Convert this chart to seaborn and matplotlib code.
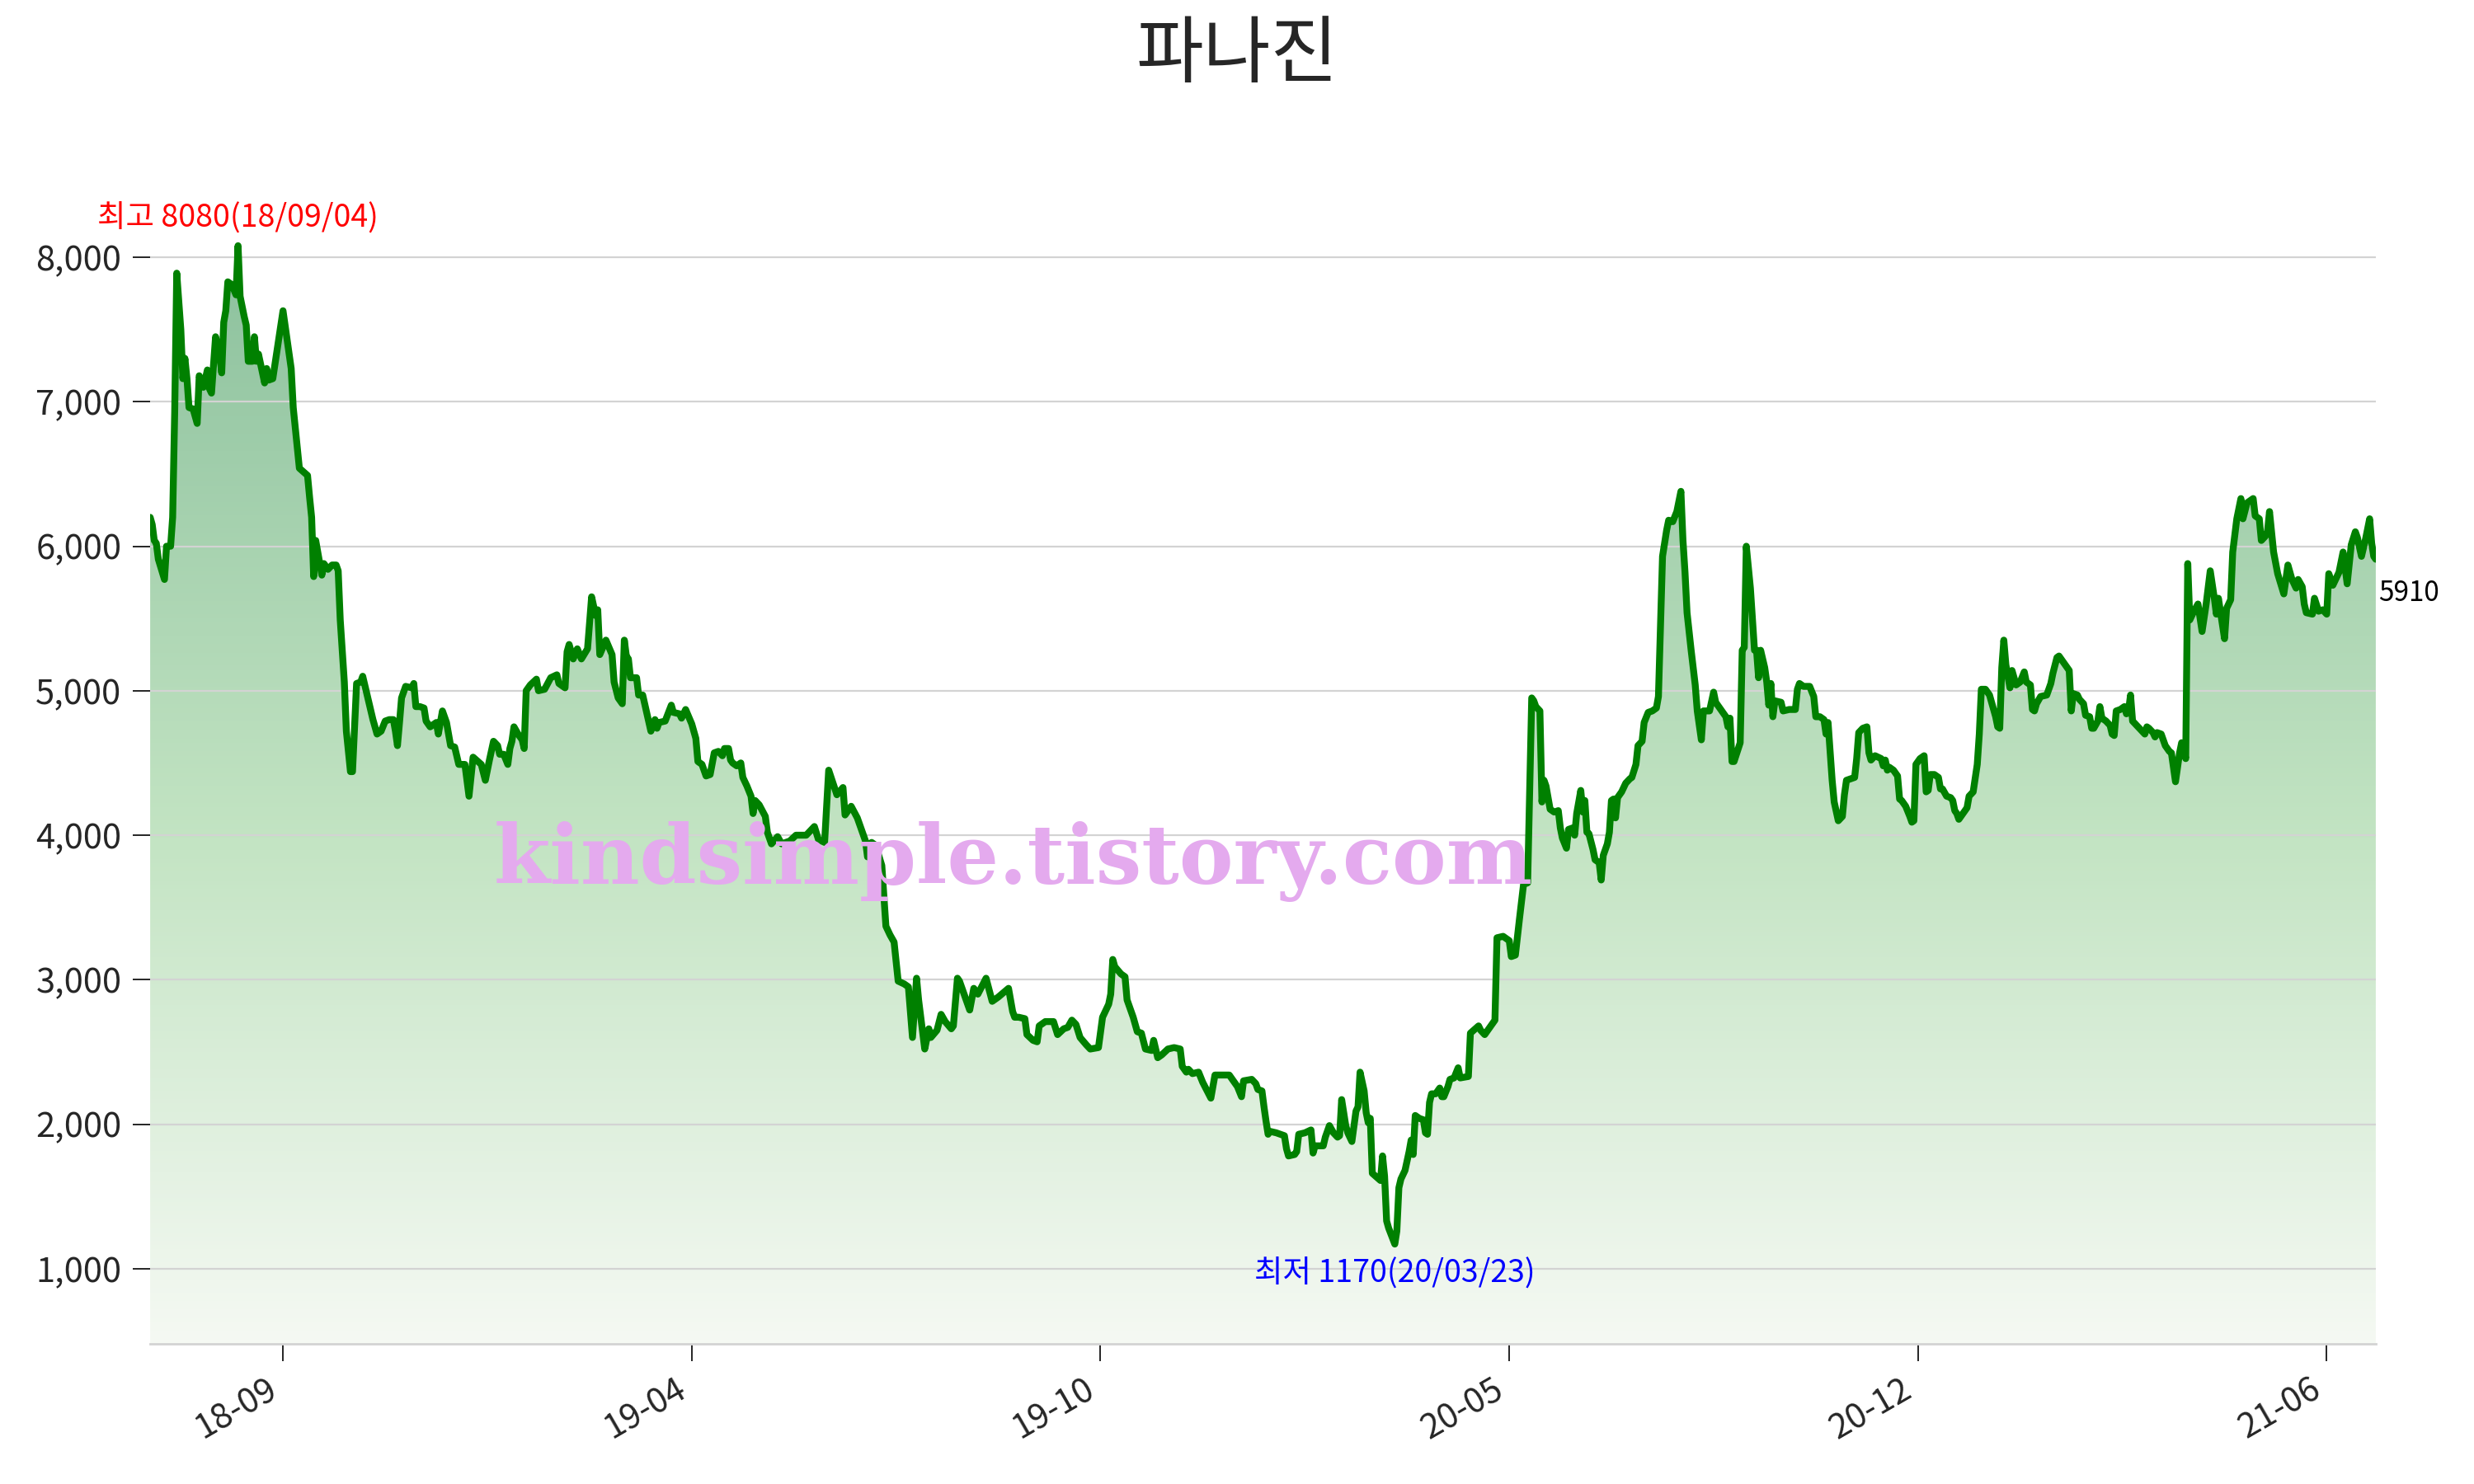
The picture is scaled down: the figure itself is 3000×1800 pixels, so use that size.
import numpy as np
import pandas as pd
import seaborn as sns
import matplotlib.pyplot as plt
import matplotlib.dates as mdates
import matplotlib.ticker as ticker
from matplotlib.colors import LinearSegmentedColormap

stock_name = '파나진'
start_date = '2018-07-23'
watermark = 'kindsimple.tistory.com'

# trading days counted from start_date
day_offset = [
    0, 1, 2, 3, 4, 7, 8, 10, 11, 12,
    13, 15, 16, 17, 18, 19, 21, 23, 24, 26,
    28, 29, 30, 32, 34, 35, 36, 37, 38, 40,
    42, 43, 44, 46, 47, 48, 50, 51, 52, 53,
    56, 57, 58, 60, 65, 69, 70, 73, 77, 78,
    79, 80, 81, 83, 84, 85, 87, 89, 91, 92,
    93, 95, 96, 98, 99, 101, 103, 104, 106, 109,
    111, 113, 115, 117, 119, 120, 121, 122, 123, 125,
    128, 129, 130, 132, 134, 135, 137, 140, 141, 143,
    145, 147, 149, 151, 154, 156, 158, 162, 164, 166,
    168, 170, 171, 173, 175, 176, 177, 178, 180, 182,
    183, 184, 186, 189, 190, 193, 196, 199, 200, 203,
    204, 205, 207, 209, 211, 214, 216, 218, 219, 220,
    223, 226, 227, 229, 231, 232, 233, 234, 235, 238,
    239, 241, 245, 247, 248, 249, 252, 255, 256, 259,
    260, 262, 265, 267, 268, 270, 272, 274, 276, 278,
    280, 281, 283, 284, 285, 287, 289, 290, 292, 294,
    295, 296, 298, 301, 302, 304, 307, 309, 313, 316,
    321, 325, 327, 330, 332, 336, 339, 340, 343, 346,
    350, 351, 353, 355, 358, 359, 360, 362, 364, 366,
    369, 371, 373, 375, 376, 379, 381, 382, 385, 387,
    389, 392, 393, 395, 396, 401, 403, 405, 409, 412,
    415, 420, 422, 423, 425, 428, 429, 432, 434, 435,
    438, 442, 444, 447, 449, 451, 453, 455, 458, 460,
    464, 466, 469, 470, 471, 472, 475, 477, 478, 479,
    481, 483, 485, 487, 490, 491, 493, 495, 498, 501,
    504, 505, 507, 508, 510, 513, 515, 519, 521, 528,
    530, 532, 534, 535, 539, 541, 542, 544, 545, 546,
    547, 548, 551, 555, 556, 557, 560, 561, 562, 565,
    568, 569, 570, 574, 575, 577, 579, 581, 582, 583,
    585, 586, 588, 590, 591, 592, 594, 595, 596, 597,
    598, 602, 603, 604, 605, 606, 609, 610, 611, 612,
    614, 616, 617, 618, 619, 621, 623, 624, 625, 626,
    627, 629, 631, 632, 633, 635, 636, 638, 640, 641,
    645, 646, 650, 651, 653, 654, 656, 658, 659, 662,
    665, 666, 668, 670, 672, 674, 676, 677, 678, 680,
    681, 682, 683, 685, 687, 689, 690, 691, 693, 694,
    696, 697, 698, 700, 701, 702, 703, 704, 706, 707,
    709, 710, 711, 713, 714, 715, 716, 717, 718, 720,
    722, 724, 725, 727, 728, 730, 731, 733, 735, 737,
    738, 739, 740, 742, 743, 745, 747, 749, 750, 751,
    752, 754, 756, 757, 759, 760, 763, 765, 766, 769,
    771, 772, 773, 774, 775, 778, 779, 780, 781, 783,
    785, 786, 787, 788, 790, 791, 792, 793, 794, 795,
    798, 799, 802, 805, 806, 807, 809, 812, 814, 815,
    817, 819, 820, 821, 823, 824, 826, 828, 829, 830,
    834, 835, 836, 838, 840, 841, 842, 844, 847, 848,
    849, 850, 851, 853, 855, 856, 857, 859, 861, 862,
    863, 864, 866, 868, 869, 870, 871, 873, 875, 876,
    877, 879, 881, 882, 883, 884, 885, 887, 889, 890,
    892, 894, 895, 896, 898, 900, 903, 904, 905, 906,
    907, 908, 910, 911, 913, 915, 917, 918, 920, 921,
    922, 923, 925, 928, 930, 931, 933, 934, 937, 939,
    940, 941, 943, 944, 946, 947, 949, 950, 951, 953,
    954, 955, 957, 959, 960, 961, 962, 964, 966, 967,
    968, 969, 970, 972, 974, 976, 977, 978, 980, 981,
    982, 984, 986, 988, 989, 990, 991, 993, 994, 995,
    996, 997, 998, 1000, 1002, 1004, 1006, 1008, 1010, 1011,
    1012, 1015, 1016, 1018, 1019, 1021, 1023, 1024, 1026, 1029,
    1030, 1032, 1033, 1035, 1036, 1037, 1039, 1041, 1044, 1046,
    1048, 1050, 1051, 1053, 1054, 1055, 1058, 1059, 1061, 1063,
    1065, 1066, 1068, 1071, 1073, 1075, 1077, 1079, 1080, 1082,
    1084, 1086, 1087, 1088, 1089,
]

# closing price (KRW)
price = [
    6200, 6150, 6040, 6020, 5910, 5770, 6000, 6000, 6200, 6930,
    7890, 7500, 7160, 7300, 7160, 6960, 6950, 6850, 7180, 7100,
    7220, 7090, 7060, 7450, 7330, 7200, 7550, 7630, 7830, 7810,
    7740, 8080, 7730, 7590, 7530, 7280, 7280, 7450, 7280, 7330,
    7130, 7230, 7150, 7160, 7630, 7230, 6960, 6540, 6490, 6340,
    6200, 5790, 6040, 5880, 5800, 5880, 5840, 5870, 5870, 5830,
    5490, 5060, 4720, 4440, 4440, 5050, 5060, 5100, 4980, 4800,
    4700, 4720, 4790, 4800, 4800, 4720, 4620, 4780, 4950, 5030,
    5020, 5050, 4890, 4890, 4880, 4790, 4750, 4780, 4700, 4860,
    4780, 4620, 4610, 4490, 4490, 4270, 4540, 4490, 4380, 4520,
    4650, 4620, 4560, 4560, 4490, 4600, 4650, 4750, 4700, 4660,
    4600, 5000, 5040, 5080, 5000, 5010, 5090, 5110, 5050, 5020,
    5270, 5320, 5220, 5290, 5220, 5290, 5650, 5520, 5560, 5250,
    5350, 5250, 5060, 4950, 4910, 5350, 5240, 5220, 5090, 5090,
    4970, 4970, 4720, 4800, 4740, 4780, 4790, 4900, 4850, 4840,
    4810, 4870, 4770, 4670, 4510, 4490, 4410, 4420, 4570, 4580,
    4550, 4600, 4600, 4520, 4500, 4480, 4500, 4400, 4340, 4270,
    4150, 4240, 4210, 4130, 4020, 3940, 3990, 3940, 3960, 4000,
    4000, 4060, 3970, 3950, 4450, 4280, 4330, 4140, 4200, 4120,
    3960, 3850, 3950, 3930, 3790, 3580, 3370, 3310, 3260, 2990,
    2970, 2950, 2600, 3010, 2860, 2520, 2660, 2600, 2650, 2760,
    2710, 2660, 2680, 3010, 2990, 2790, 2940, 2900, 3010, 2850,
    2880, 2940, 2780, 2740, 2740, 2730, 2620, 2580, 2570, 2680,
    2710, 2710, 2620, 2660, 2670, 2720, 2690, 2600, 2550, 2520,
    2530, 2740, 2830, 2900, 3140, 3090, 3040, 3020, 2860, 2820,
    2740, 2640, 2630, 2520, 2510, 2580, 2460, 2480, 2520, 2530,
    2520, 2400, 2360, 2380, 2350, 2360, 2290, 2180, 2340, 2340,
    2300, 2260, 2190, 2300, 2310, 2280, 2240, 2230, 2120, 2020,
    1930, 1950, 1940, 1920, 1830, 1780, 1790, 1810, 1930, 1940,
    1960, 1800, 1850, 1850, 1910, 1990, 1940, 1910, 1920, 2170,
    1990, 1940, 1880, 2090, 2120, 2360, 2230, 2080, 2010, 2040,
    1660, 1610, 1780, 1640, 1330, 1280, 1170, 1260, 1560, 1620,
    1680, 1810, 1890, 1790, 2060, 2040, 2030, 1940, 1930, 2150,
    2210, 2210, 2250, 2190, 2190, 2260, 2310, 2320, 2390, 2320,
    2330, 2630, 2680, 2650, 2620, 2640, 2680, 2720, 3290, 3300,
    3270, 3160, 3170, 3420, 3660, 3670, 4950, 4930, 4890, 4860,
    4230, 4380, 4340, 4180, 4160, 4170, 4050, 3980, 3910, 4040,
    4050, 4000, 4150, 4310, 4160, 4240, 4020, 4010, 3900, 3830,
    3810, 3690, 3860, 3940, 4020, 4240, 4250, 4120, 4260, 4300,
    4360, 4390, 4400, 4490, 4620, 4650, 4780, 4850, 4860, 4880,
    4960, 5450, 5930, 6110, 6180, 6170, 6240, 6380, 6040, 5820,
    5540, 5280, 5040, 4860, 4660, 4860, 4860, 4990, 4920, 4860,
    4820, 4750, 4810, 4510, 4510, 4640, 5280, 5300, 6000, 5710,
    5280, 5280, 5090, 5280, 5160, 5060, 4900, 5050, 4820, 4930,
    4920, 4860, 4870, 4870, 5010, 5050, 5030, 5030, 4960, 4820,
    4820, 4800, 4700, 4780, 4380, 4230, 4100, 4130, 4280, 4380,
    4400, 4530, 4710, 4740, 4750, 4570, 4520, 4550, 4530, 4480,
    4520, 4450, 4470, 4450, 4410, 4250, 4240, 4200, 4130, 4090,
    4100, 4490, 4530, 4550, 4300, 4310, 4420, 4420, 4400, 4320,
    4320, 4270, 4260, 4240, 4170, 4150, 4110, 4150, 4190, 4270,
    4300, 4490, 4700, 5010, 5010, 4970, 4820, 4750, 4740, 5160,
    5350, 5180, 5020, 5140, 5040, 5060, 5130, 5060, 5040, 4870,
    4860, 4910, 4960, 4970, 5050, 5120, 5230, 5240, 5180, 5140,
    4860, 4980, 4970, 4940, 4910, 4830, 4820, 4740, 4740, 4790,
    4890, 4810, 4790, 4760, 4700, 4690, 4860, 4870, 4890, 4840,
    4860, 4970, 4790, 4760, 4730, 4700, 4750, 4740, 4710, 4680,
    4710, 4700, 4620, 4580, 4570, 4470, 4370, 4570, 4640, 4590,
    4530, 5880, 5490, 5550, 5600, 5410, 5600, 5830, 5640, 5530,
    5640, 5360, 5570, 5630, 5960, 6190, 6330, 6190, 6300, 6330,
    6210, 6190, 6040, 6070, 6100, 6240, 5960, 5810, 5670, 5870,
    5770, 5710, 5770, 5720, 5600, 5540, 5530, 5640, 5550, 5560,
    5530, 5810, 5730, 5820, 5960, 5740, 6010, 6100, 6060, 5930,
    6050, 6190, 6020, 5930, 5910,
]

df = pd.DataFrame({
    'date': pd.Timestamp(start_date) + pd.to_timedelta(day_offset, unit='D'),
    'price': price,
})

sns.set_style('white')
plt.rcParams['font.family'] = ['Noto Sans CJK KR', 'DejaVu Sans']
plt.rcParams['axes.unicode_minus'] = False

fig, ax = plt.subplots(figsize=(15, 9), dpi=200)
fig.subplots_adjust(left=0.0607, right=0.9603, bottom=0.0944, top=0.9017)

pmax, pmin = df['price'].max(), df['price'].min()
prange = pmax - pmin
ymin, ymax = pmin - 0.1 * prange, pmax + 0.1 * prange

sns.lineplot(data=df, x='date', y='price', color='green', linewidth=3.0, ax=ax, zorder=3)

# gradient fill under the line
poly = ax.fill_between(df['date'], df['price'], ymin, color='none', linewidth=0)
x0 = mdates.date2num(df['date'].iloc[0])
x1 = mdates.date2num(df['date'].iloc[-1])
cmap = LinearSegmentedColormap.from_list(
    'fill', [(0, '#f5f9f3'), (0.46, '#c3e4c3'), (1, '#8cc19d')])
grad = np.linspace(0, 1, 256).reshape(-1, 1)
im = ax.imshow(grad, aspect='auto', cmap=cmap, origin='lower',
               extent=[x0, x1, ymin, pmax], zorder=0.2)
im.set_clip_path(poly.get_paths()[0], transform=ax.transData)

ax.set_xlim(x0, x1)
ax.set_ylim(ymin, ymax)

# axes style
for side in ['top', 'right', 'left']:
    ax.spines[side].set_visible(False)
ax.spines['bottom'].set_color('#d3d3d3')
ax.spines['bottom'].set_linewidth(1.0)
ax.set_axisbelow(True)
ax.yaxis.grid(True, color='#d3d3d3', linewidth=0.8)
ax.xaxis.grid(False)

ax.yaxis.set_major_locator(ticker.MultipleLocator(1000))
ax.yaxis.set_major_formatter(ticker.FuncFormatter(lambda v, p: f'{int(v):,}'))
ax.xaxis.set_major_locator(ticker.MultipleLocator(200))
ax.xaxis.set_major_formatter(mdates.DateFormatter('%y-%m'))
ax.tick_params(axis='both', which='major', length=7.5, width=0.6,
               color='black', labelsize=15, pad=5,
               left=True, bottom=True)
plt.setp(ax.get_xticklabels(), rotation=30, ha='right')
ax.set_xlabel('')
ax.set_ylabel('')

# max / min / last annotations
imax = df['price'].idxmax()
imin = df['price'].idxmin()
dmax, dmin = df.loc[imax, 'date'], df.loc[imin, 'date']
ax.annotate(f"최고 {pmax}({dmax:%y/%m/%d})", xy=(dmax, pmax), xytext=(0, 5),
            textcoords='offset points', ha='center', va='bottom',
            color='red', fontsize=13.5)
ax.annotate(f"최저 {pmin}({dmin:%y/%m/%d})", xy=(dmin, pmin), xytext=(0, -6),
            textcoords='offset points', ha='center', va='top',
            color='blue', fontsize=13.5)
last = df.iloc[-1]
ax.annotate(f"{last['price']}", xy=(last['date'], last['price']), xytext=(1, -15),
            textcoords='offset points', ha='left', va='center',
            color='black', fontsize=12)

fig.text(0.5, 1 - 68 / 1800, stock_name, ha='center', va='center', fontsize=32)

fig.text(0.4097, 0.4046, watermark, ha='center', va='baseline',
         fontsize=35.5, family='DejaVu Serif', weight='bold',
         color='#e4aaee', zorder=10)

plt.savefig('out.png', dpi=200)
